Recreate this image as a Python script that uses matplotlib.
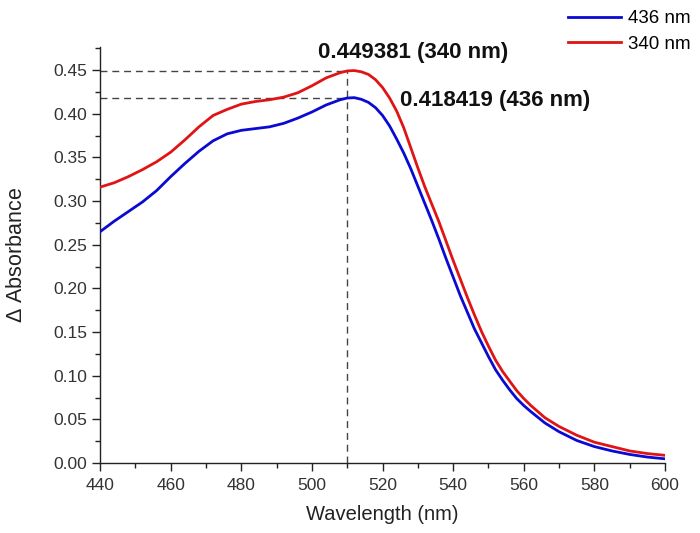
import matplotlib
matplotlib.use("Agg")
import matplotlib.pyplot as plt
from matplotlib.ticker import MultipleLocator, FormatStrFormatter

plt.rcParams['font.family'] = ['Liberation Sans', 'DejaVu Sans']
plt.rcParams['mathtext.fontset'] = 'custom'
plt.rcParams['mathtext.it'] = 'Liberation Sans:italic'
plt.rcParams['mathtext.rm'] = 'Liberation Sans'

wavelength = [440, 444, 448, 452, 456, 460, 464, 468, 472, 476, 480, 484, 488, 492, 496,
              500, 504, 508, 510, 512, 514, 516, 518, 520, 522, 524, 526, 528, 530, 532,
              534, 536, 538, 540, 542, 544, 546, 548, 550, 552, 554, 556, 558, 560, 562,
              566, 570, 575, 580, 585, 590, 595, 600]

abs_340 = [0.316, 0.321, 0.328, 0.336, 0.345, 0.356, 0.370, 0.385, 0.398, 0.405, 0.411,
           0.414, 0.416, 0.419, 0.424, 0.432, 0.441, 0.447, 0.449, 0.4494, 0.448, 0.445,
           0.439, 0.430, 0.418, 0.403, 0.384, 0.361, 0.338, 0.316, 0.296, 0.276, 0.254,
           0.232, 0.211, 0.190, 0.170, 0.151, 0.134, 0.118, 0.105, 0.094, 0.083, 0.074,
           0.066, 0.052, 0.042, 0.032, 0.024, 0.019, 0.014, 0.011, 0.009]

abs_436 = [0.265, 0.277, 0.288, 0.299, 0.312, 0.328, 0.343, 0.357, 0.369, 0.377, 0.381,
           0.383, 0.385, 0.389, 0.395, 0.402, 0.410, 0.416, 0.418, 0.4184, 0.4165, 0.413,
           0.407, 0.398, 0.386, 0.371, 0.355, 0.337, 0.317, 0.297, 0.277, 0.256, 0.234,
           0.213, 0.192, 0.173, 0.154, 0.138, 0.122, 0.107, 0.095, 0.084, 0.074, 0.066,
           0.059, 0.046, 0.036, 0.026, 0.019, 0.014, 0.010, 0.007, 0.005]

peak_wl = 510
peak_340 = 0.449381
peak_436 = 0.418419
series_labels = ['436 nm', '340 nm']

fig = plt.figure(figsize=(7.0, 5.33), dpi=100)
ax = fig.add_axes([0.143, 0.131, 0.807, 0.781])

l1, = ax.plot(wavelength, abs_436, color='#0a0ad2', lw=2.0, label=series_labels[0], zorder=3)
l2, = ax.plot(wavelength, abs_340, color='#e01414', lw=2.0, label=series_labels[1], zorder=3)

dash = dict(color='#444444', lw=1.0, ls=(0, (5, 3.5)), zorder=2)
ax.plot([440, peak_wl], [peak_340, peak_340], **dash)
ax.plot([440, peak_wl], [peak_436, peak_436], **dash)
ax.plot([peak_wl, peak_wl], [0, peak_340], **dash)

ax.text(528.6, 0.4696, f'{peak_340:.6f} (340 nm)', ha='center', va='center',
        fontsize=16, fontweight='bold', color='#111111')
ax.text(552.0, 0.4147, f'{peak_436:.6f} (436 nm)', ha='center', va='center',
        fontsize=16, fontweight='bold', color='#111111')

ax.set_xlim(440, 600)
ax.set_ylim(0, 0.4765)
ax.xaxis.set_major_locator(MultipleLocator(20))
ax.xaxis.set_minor_locator(MultipleLocator(10))
ax.yaxis.set_major_locator(MultipleLocator(0.05))
ax.yaxis.set_minor_locator(MultipleLocator(0.025))
ax.yaxis.set_major_formatter(FormatStrFormatter('%.2f'))

for s in ['top', 'right']:
    ax.spines[s].set_visible(False)
for s in ['left', 'bottom']:
    ax.spines[s].set_linewidth(1.0)
    ax.spines[s].set_color('#222222')

ax.tick_params(which='major', direction='out', length=6, width=1.0, labelsize=12.5,
               colors='#222222', labelcolor='#333333')
ax.tick_params(which='minor', direction='out', length=3.5, width=1.0, colors='#222222')
ax.tick_params(axis='x', pad=5)

ax.set_xlabel('Wavelength (nm)', fontsize=14.5, color='#222222', labelpad=8)
ax.set_ylabel(r'$\mathit{\Delta}$ Absorbance', fontsize=15.5, color='#222222', labelpad=19)

fig.legend(handles=[l1, l2], loc='upper left', bbox_to_anchor=(0.801, 0.995),
           frameon=False, fontsize=13.5, handlelength=2.8, handletextpad=0.37,
           labelspacing=0.45, borderaxespad=0.0)

fig.savefig('out.png', dpi=100)
